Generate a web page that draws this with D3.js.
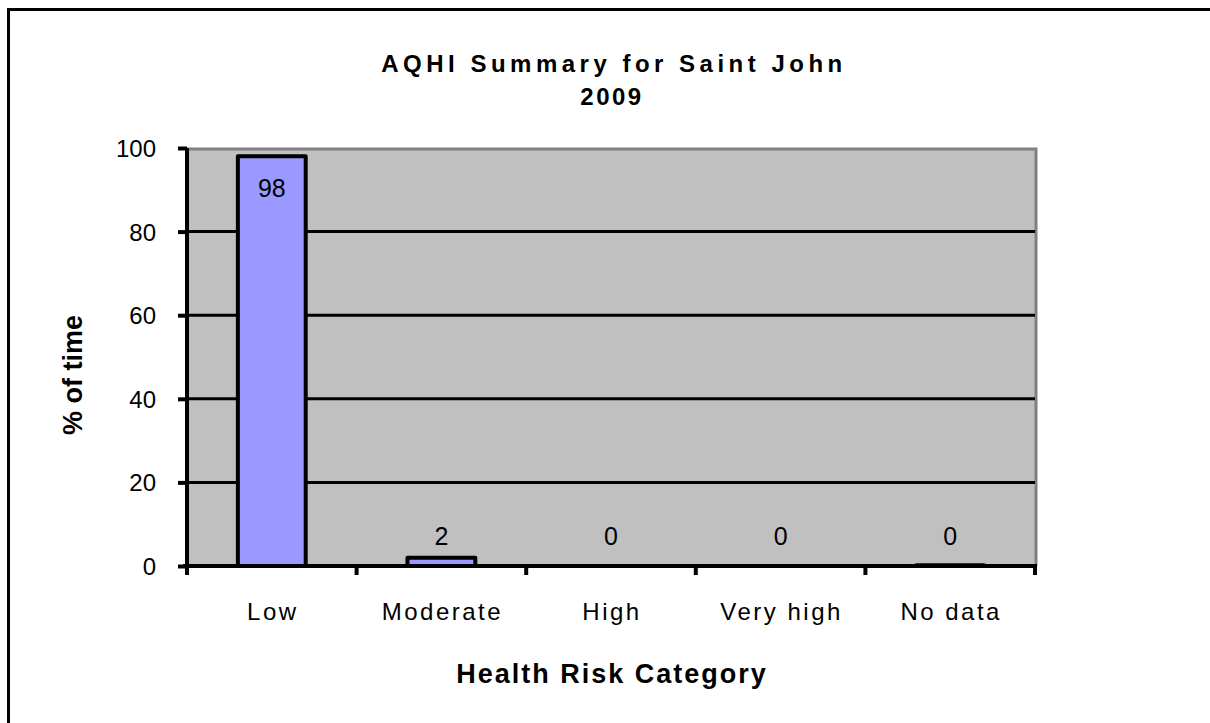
<!DOCTYPE html>
<html>
<head>
<meta charset="utf-8">
<script src="https://cdn.jsdelivr.net/npm/d3@7"></script>
<style>
  body { margin: 0; background: #fff; }
  text { font-family: "Liberation Sans", Arial, sans-serif; fill: #000; }
</style>
</head>
<body>
<div id="chart"></div>
<script>
// chart data
var categories = ["Low", "Moderate", "High", "Very high", "No data"];
var values = [98, 2, 0, 0, 0.2];
var labels = ["98", "2", "0", "0", "0"];
var yTicks = [0, 20, 40, 60, 80, 100];

var width = 1210, height = 723;
var margin = { left: 187, right: 175, top: 148, bottom: 157 };

var svg = d3.select("#chart")
  .append("svg")
    .attr("width", width)
    .attr("height", height);

// outer chart border (only top and left fall inside the picture)
svg.append("rect")
  .attr("x", 8.5).attr("y", 9.5)
  .attr("width", 1400).attr("height", 900)
  .attr("fill", "none")
  .attr("stroke", "#000")
  .attr("stroke-width", 3);

var x = d3.scaleBand()
  .domain(categories)
  .range([margin.left, width - margin.right])
  .paddingInner(0).paddingOuter(0);

var y = d3.scaleLinear()
  .domain([0, 100])
  .range([height - margin.bottom, margin.top]);

var x0 = x.range()[0], x1 = x.range()[1];

// plot area
svg.append("rect")
  .attr("x", x0).attr("y", y(100))
  .attr("width", x1 - x0).attr("height", y(0) - y(100))
  .attr("fill", "#c0c0c0");

// gray frame top / right
svg.append("path")
  .attr("d", "M" + x0 + "," + (y(100) + 1) + "H" + (x1 + 1) + "V" + y(0))
  .attr("fill", "none")
  .attr("stroke", "#808080")
  .attr("stroke-width", 3);

// gridlines
svg.append("g")
  .selectAll("line")
  .data(yTicks.filter(function(d){ return d > 0 && d < 100; }))
  .enter()
  .append("line")
    .attr("x1", x0).attr("x2", x1)
    .attr("y1", function(d){ return y(d); })
    .attr("y2", function(d){ return y(d); })
    .attr("stroke", "#000")
    .attr("stroke-width", 3);

// bars
var bw = x.bandwidth() * 0.4;
svg.append("g")
  .selectAll("rect")
  .data(values)
  .enter()
  .append("rect")
    .attr("x", function(d, i){ return x(categories[i]) + (x.bandwidth() - bw) / 2; })
    .attr("y", function(d){ return y(d); })
    .attr("width", bw)
    .attr("height", function(d){ return y(0) - y(d); })
    .attr("fill", "#9999ff")
    .attr("stroke", function(d){ return d > 0 ? "#000" : "none"; })
    .attr("stroke-width", 4)
    .attr("stroke-linejoin", "round");

// y axis
var yAxis = svg.append("g")
  .attr("transform", "translate(" + x0 + ",0)")
  .call(d3.axisLeft(y).tickValues(yTicks).tickSize(9).tickPadding(22));
yAxis.select(".domain").attr("stroke-width", 4).attr("d", "M0," + y(100) + "V" + y(0));
yAxis.selectAll(".tick line").attr("stroke-width", 4);
yAxis.selectAll(".tick text")
  .style("font-size", "24px")
  .style("font-family", "'Liberation Sans', Arial, sans-serif")
  .attr("dy", "0.35em");

// x axis with ticks at category boundaries
var bounds = categories.map(function(c){ return x(c); }).concat([x1]);
svg.append("line")
  .attr("x1", x0 - 4).attr("x2", x1 + 2)
  .attr("y1", y(0)).attr("y2", y(0))
  .attr("stroke", "#000").attr("stroke-width", 4);
svg.append("g")
  .selectAll("line")
  .data(bounds)
  .enter()
  .append("line")
    .attr("x1", function(d){ return d; })
    .attr("x2", function(d){ return d; })
    .attr("y1", y(0)).attr("y2", y(0) + 9)
    .attr("stroke", "#000")
    .attr("stroke-width", 4);

svg.append("g")
  .selectAll("text")
  .data(categories)
  .enter()
  .append("text")
    .attr("x", function(d){ return x(d) + x.bandwidth() / 2 + 1; })
    .attr("y", 620)
    .attr("text-anchor", "middle")
    .style("font-size", "24px")
    .style("letter-spacing", "2.5px")
    .text(function(d){ return d; });

// value labels
svg.append("g")
  .selectAll("text")
  .data(values)
  .enter()
  .append("text")
    .attr("x", function(d, i){ return x(categories[i]) + x.bandwidth() / 2; })
    .attr("y", function(d){ return d > 50 ? y(d) + 41 : y(0) - 21; })
    .attr("text-anchor", "middle")
    .style("font-size", "25px")
    .text(function(d, i){ return labels[i]; });

// titles
svg.append("text")
  .attr("x", 614).attr("y", 72)
  .attr("text-anchor", "middle")
  .style("font-weight", "bold")
  .style("font-size", "24px")
  .style("letter-spacing", "4.5px")
  .text("AQHI Summary for Saint John");
svg.append("text")
  .attr("x", 612).attr("y", 105)
  .attr("text-anchor", "middle")
  .style("font-weight", "bold")
  .style("font-size", "24px")
  .style("letter-spacing", "2.5px")
  .text("2009");

svg.append("text")
  .attr("x", 612).attr("y", 683)
  .attr("text-anchor", "middle")
  .style("font-weight", "bold")
  .style("font-size", "27px")
  .style("letter-spacing", "2px")
  .text("Health Risk Category");

svg.append("text")
  .attr("transform", "translate(82,375) rotate(-90)")
  .attr("text-anchor", "middle")
  .style("font-weight", "bold")
  .style("font-size", "27px")
  .text("% of time");
</script>
</body>
</html>
